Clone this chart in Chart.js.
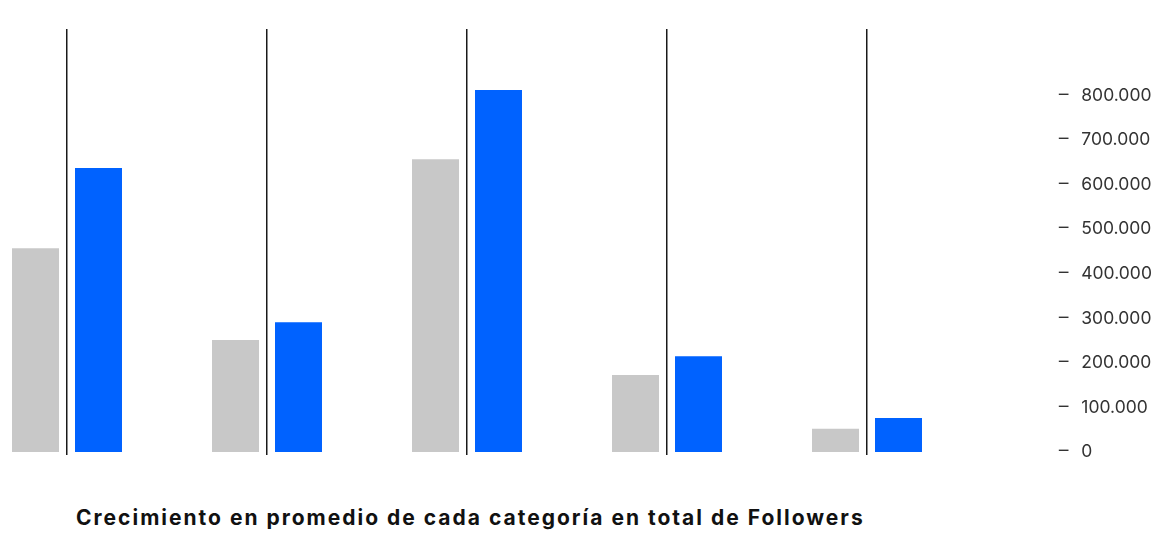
<!DOCTYPE html>
<html>
<head>
<meta charset="utf-8">
<script src="https://cdn.jsdelivr.net/npm/chart.js@4"></script>
<style>
  html, body { margin: 0; padding: 0; background: #fff; }
  #wrap { position: relative; width: 1159px; height: 534px; }
  #chartBox { position: absolute; left: 0; top: 0; width: 1159px; height: 470px; }
  #title {
    position: absolute; left: 76px; top: 507px;
    font-family: Inter, sans-serif; font-weight: bold; font-size: 21px; line-height: 21px;
    letter-spacing: 2px; color: #111; white-space: nowrap;
  }
</style>
</head>
<body>
<div id="wrap">
  <div id="chartBox"><canvas id="myChart"></canvas></div>
  <div id="title">Crecimiento en promedio de cada categoría en total de Followers</div>
</div>
<script>
// Data
const categories = ['Categoría 1', 'Categoría 2', 'Categoría 3', 'Categoría 4', 'Categoría 5'];
const seriesBefore = [457000, 251000, 657000, 173000, 52000];
const seriesAfter = [637000, 291000, 812000, 215000, 76000];
const yTickValues = [0, 100000, 200000, 300000, 400000, 500000, 600000, 700000, 800000];

// Format numbers like 800.000
function formatTick(value) {
  return '\u2012\u2002\u2009' + value.toString().replace(/\B(?=(\d{3})+(?!\d))/g, '.');
}

document.addEventListener('DOMContentLoaded', () => {
  const ctx = document.getElementById('myChart').getContext('2d');
  const myChart = new Chart(ctx, {
    type: 'bar',
    data: {
      labels: categories,
      datasets: [
        { label: 'Antes', data: seriesBefore, backgroundColor: '#c8c8c8' },
        { label: 'Después', data: seriesAfter, backgroundColor: '#0062ff' }
      ]
    },
    options: {
      responsive: true,
      maintainAspectRatio: false,
      animation: false,
      datasets: {
        bar: { clip: false, borderWidth: 0, categoryPercentage: 0.63, barPercentage: 0.746 }
      },
      layout: { padding: { left: 67, top: 29, right: 0, bottom: 15 } },
      plugins: {
        legend: { display: false },
        tooltip: { enabled: false }
      },
      scales: {
        x: {
          offset: false,
          grid: { offset: false, color: '#1a1a1a', lineWidth: 1.5, drawTicks: true, tickLength: 3 },
          border: { display: false },
          ticks: { display: false }
        },
        y: {
          position: 'right',
          min: 0,
          max: 949000,
          grid: { display: false, drawTicks: false },
          border: { display: false },
          afterBuildTicks: (scale) => {
            scale.ticks = yTickValues.map((v) => ({ value: v }));
          },
          afterFit: (scale) => {
            // keep the labels far right without shrinking the plot
            scale.width = 292;
            scale.paddingTop = 0;
            scale.paddingBottom = 0;
          },
          ticks: {
            padding: 191,
            color: '#333',
            font: { family: 'Inter', size: 17.5 },
            callback: (value) => formatTick(value)
          }
        }
      }
    }
  });
});
</script>
</body>
</html>
